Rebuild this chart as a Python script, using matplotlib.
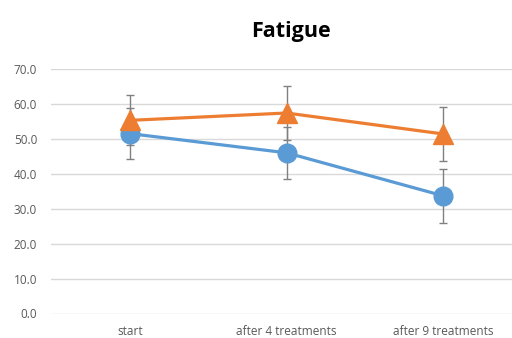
import matplotlib
matplotlib.use("Agg")
import matplotlib.pyplot as plt

categories = ["start", "after 4 treatments", "after 9 treatments"]
series_a = [51.5, 46.0, 33.7]
series_a_err = [7.3, 7.4, 7.7]
series_b = [55.3, 57.4, 51.4]
series_b_err = [7.2, 7.6, 7.6]
yticks = [0, 10, 20, 30, 40, 50, 60, 70]

plt.rcParams['font.family'] = ['Open Sans', 'DejaVu Sans']

W, H = 512, 338
fig = plt.figure(figsize=(W/100, H/100), dpi=100)
left, right = 51, 512
bottom, top = 313.5, 69
ax = fig.add_axes([left/W, 1 - bottom/H, (right-left)/W, (bottom-top)/H])

x = list(range(len(categories)))
ax.errorbar(x, series_a, yerr=series_a_err, fmt='none', ecolor='#808080',
            elinewidth=1.0, capsize=3, capthick=1.0, zorder=2)
ax.errorbar(x, series_b, yerr=series_b_err, fmt='none', ecolor='#808080',
            elinewidth=1.0, capsize=3, capthick=1.0, zorder=2)
ax.plot(x, series_a, color='#5B9BD5', lw=2.3, marker='o', markersize=13.5,
        solid_capstyle='round', zorder=3)
ax.plot(x, series_b, color='#ED7D31', lw=2.3, marker='^', markersize=14,
        solid_capstyle='round', zorder=4)

ax.set_ylim(0, 70)
ax.set_xlim(-0.505, 2.44)
ax.set_yticks(yticks)
ax.set_yticklabels([f"{v:.1f}" for v in yticks])
ax.set_xticks(x)
ax.set_xticklabels(categories)
ax.grid(axis='y', color='#D9D9D9', lw=1.0)
ax.set_axisbelow(True)
for s in ax.spines.values():
    s.set_visible(False)
ax.tick_params(axis='both', length=0, labelsize=8.5, labelcolor='#595959')
ax.tick_params(axis='y', pad=10)
ax.tick_params(axis='x', pad=8)

fig.text(291/W, 1 - 31/H, "Fatigue", ha='center', va='center',
         fontsize=15.5, fontweight='bold', color='#000000')

fig.savefig("out.png", dpi=100)
